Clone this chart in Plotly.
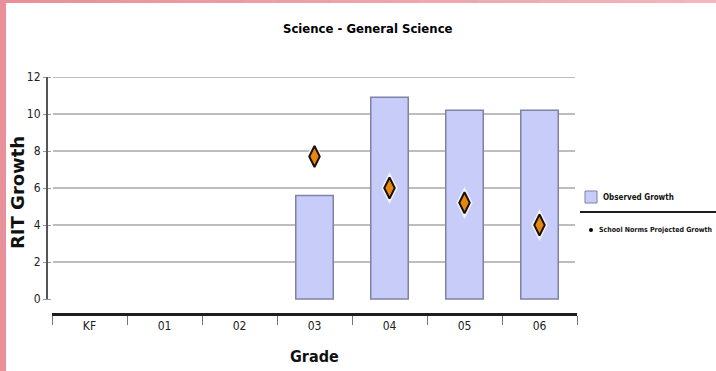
import plotly.graph_objects as go

# Grades and growth values
grades = ["KF", "01", "02", "03", "04", "05", "06"]
observed_growth = [None, None, None, 5.6, 10.9, 10.2, 10.2]
projected_growth = [None, None, None, 7.7, 6.0, 5.2, 4.0]
y_ticks = [0, 2, 4, 6, 8, 10, 12]

W, H = 716, 371
ML, MR, MT, MB = 52, 139, 77, 58
PW, PH = W - ML - MR, H - MT - MB

COND = "DejaVu Sans Condensed, Liberation Sans Narrow, Arial Narrow, sans-serif"


def px(x):
    return (x - ML) / PW


def py(y):
    return (H - MB - y) / PH


fig = go.Figure()

fig.add_trace(go.Bar(
    x=grades, y=observed_growth, width=0.5,
    marker=dict(color="#c8ccf8", line=dict(color="#7f82a6", width=1.5)),
    name="Observed Growth", showlegend=False,
))

# soft white halo behind the diamonds
fig.add_trace(go.Scatter(
    x=grades, y=projected_growth, mode="markers",
    marker=dict(symbol="diamond-tall", size=23, color="rgba(255,255,255,0.75)", line=dict(width=0)),
    showlegend=False, hoverinfo="skip",
))
fig.add_trace(go.Scatter(
    x=grades, y=projected_growth, mode="markers",
    marker=dict(symbol="diamond-tall", size=15, color="#e8870f", line=dict(color="#1a1208", width=2)),
    name="School Norms Projected Growth", showlegend=False,
))

shapes = []
# horizontal gridlines (none at zero)
for t in y_ticks[1:]:
    shapes.append(dict(type="line", xref="paper", yref="y", x0=px(53), x1=px(575), y0=t, y1=t,
                       line=dict(color="#bdbdbd", width=2), layer="below"))
# vertical value axis line
shapes.append(dict(type="line", xref="paper", yref="y", x0=px(47), x1=px(47), y0=0, y1=y_ticks[-1],
                   line=dict(color="#555555", width=2)))

# legend
shapes.append(dict(type="rect", xref="paper", yref="paper", x0=px(585), x1=px(597), y0=py(203), y1=py(191),
                   fillcolor="#c8ccf8", line=dict(color="#7f82a6", width=1)))
shapes.append(dict(type="line", xref="paper", yref="paper", x0=px(580), x1=px(716), y0=py(212), y1=py(212),
                   line=dict(color="#1e1e1e", width=2)))
shapes.append(dict(type="circle", xref="paper", yref="paper", x0=px(589), x1=px(593), y0=py(232), y1=py(228),
                   fillcolor="#000000", line=dict(color="#000000", width=0)))

# page frame: pink strip on the left and a fading pink band on top
shapes.append(dict(type="rect", xref="paper", yref="paper", x0=px(0), x1=px(6), y0=py(H), y1=py(0),
                   fillcolor="#e8919a", line=dict(width=0), layer="above"))
n = 24
c0, c1 = (232, 145, 152), (243, 182, 186)
for i in range(n):
    f = i / (n - 1)
    col = "rgb(%d,%d,%d)" % tuple(round(a + (b - a) * f) for a, b in zip(c0, c1))
    shapes.append(dict(type="rect", xref="paper", yref="paper",
                       x0=px(6 + (W - 6) * i / n), x1=px(6 + (W - 6) * (i + 1) / n + 0.5),
                       y0=py(3), y1=py(0), fillcolor=col, line=dict(width=0), layer="above"))

annotations = [
    dict(text="<b>Science - General Science</b>", xref="paper", yref="paper", x=px(368), y=py(28),
         showarrow=False, font=dict(family=COND, size=13, color="#000000"), xanchor="center", yanchor="middle"),
    dict(text="<b>RIT Growth</b>", xref="paper", yref="paper", x=px(17), y=py(193), textangle=-90,
         showarrow=False, font=dict(family="DejaVu Sans, sans-serif", size=18, color="#111111"),
         xanchor="center", yanchor="middle"),
    dict(text="<b>Grade</b>", xref="paper", yref="paper", x=px(314), y=py(356),
         showarrow=False, font=dict(family=COND, size=16, color="#111111"), xanchor="center", yanchor="middle"),
    dict(text="<b>Observed Growth</b>", xref="paper", yref="paper", x=px(601), y=py(197),
         showarrow=False, font=dict(family=COND, size=8, color="#111111"), xanchor="left", yanchor="middle"),
    dict(text="<b>School Norms Projected Growth</b>", xref="paper", yref="paper", x=px(597), y=py(230),
         showarrow=False, font=dict(family=COND, size=7, color="#111111"), xanchor="left", yanchor="middle"),
]

fig.update_layout(
    width=W, height=H,
    margin=dict(l=ML, r=MR, t=MT, b=MB, pad=0),
    paper_bgcolor="white", plot_bgcolor="white",
    showlegend=False,
    bargap=0.5,
    shapes=shapes,
    annotations=annotations,
    xaxis=dict(
        type="category", categoryorder="array", categoryarray=grades, range=[-0.5, 6.5],
        showgrid=False, zeroline=False,
        showline=True, linecolor="#1e1e1e", linewidth=3,
        tickson="boundaries", ticks="outside", ticklen=9, tickcolor="#777777", tickwidth=1,
        tickfont=dict(family=COND, size=12, color="#222222"),
    ),
    yaxis=dict(
        range=[-0.757, 12], tickvals=y_ticks, ticktext=[str(t) for t in y_ticks],
        showgrid=False, zeroline=False, showline=False,
        ticks="outside", ticklen=8, tickcolor="#999999", tickwidth=1,
        tickfont=dict(family=COND, size=12, color="#222222"),
    ),
)

fig.write_html("out.html")
